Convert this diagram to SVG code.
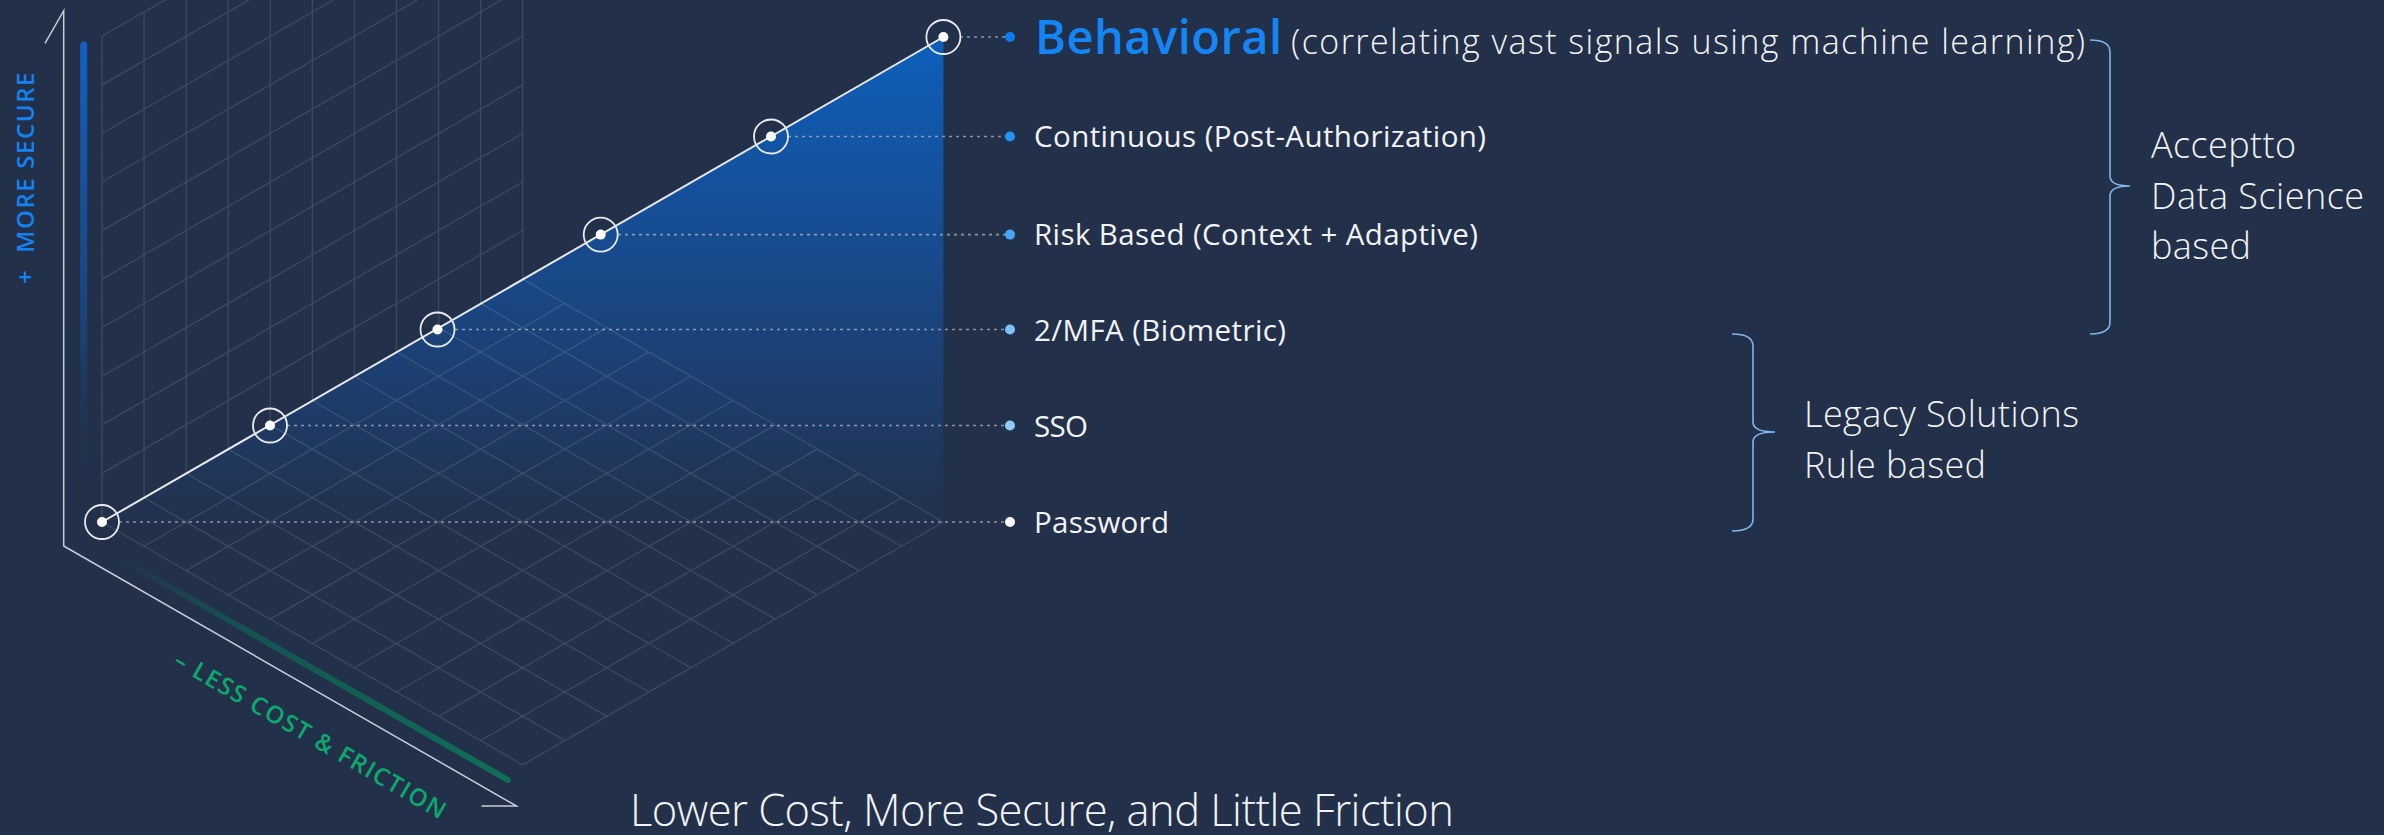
<svg xmlns="http://www.w3.org/2000/svg" width="2384" height="835" viewBox="0 0 2384 835">
<defs>
<linearGradient id="fillGrad" x1="0" y1="37" x2="0" y2="527" gradientUnits="userSpaceOnUse">
<stop offset="0" stop-color="#0d5fbb"/>
<stop offset="0.45" stop-color="#184a8c"/>
<stop offset="1" stop-color="#22304b"/>
</linearGradient>
<linearGradient id="blueBar" x1="0" y1="42" x2="0" y2="495" gradientUnits="userSpaceOnUse">
<stop offset="0" stop-color="#1162c4"/>
<stop offset="0.6" stop-color="#174a8a" stop-opacity="0.8"/>
<stop offset="1" stop-color="#22304b" stop-opacity="0"/>
</linearGradient>
<linearGradient id="greenBar" x1="118" y1="557" x2="508" y2="780" gradientUnits="userSpaceOnUse">
<stop offset="0" stop-color="#0f6e56" stop-opacity="0"/>
<stop offset="0.35" stop-color="#0f6455" stop-opacity="0.7"/>
<stop offset="1" stop-color="#0e7156"/>
</linearGradient>
<style>
.grid{stroke:#ffffff;stroke-opacity:0.12;stroke-width:1.3;fill:none}
.axis{stroke:#c9cdd3;stroke-width:1.5;fill:none}
.conn{stroke:#aeb5c2;stroke-opacity:0.75;stroke-width:1.6;stroke-dasharray:3 4;fill:none}
.ring{fill:none;stroke:#e8eaee;stroke-width:1.8}
.pt{fill:#ffffff}
.lbl{font-family:"Open Sans","Liberation Sans",sans-serif;font-size:29.5px;font-weight:400;fill:#f2f3f5}
.side{font-family:"Open Sans","Liberation Sans",sans-serif;font-size:36px;font-weight:300;fill:#f2f3f5}
.brace{fill:none;stroke:#7fb6ec;stroke-width:1.6}
</style>
</defs>
<rect x="0" y="0" width="2384" height="835" fill="#22304a"/>

<g id="back-wall-grid">
<path class="grid" d="M102,522V36.3 M144.07,497.71V12 M186.14,473.42V0 M228.21,449.13V0 M270.28,424.84V0 M312.35,400.55V0 M354.42,376.26V0 M396.49,351.97V0 M438.56,327.68V0 M480.63,303.39V0 M522.7,279.1V0
M102,473.43L522.7,230.53 M102,424.86L522.7,181.96 M102,376.29L522.7,133.39 M102,327.72L522.7,84.82 M102,279.15L522.7,36.25 M102,230.58L522.7,-12.32 M102,182.01L522.7,-60.89 M102,133.44L522.7,-109.46 M102,84.87L522.7,-158.03 M102,36.3L522.7,-206.6"/>
</g>

<g id="security-area">
<polygon points="102,522 943.4,37 943.4,527 102,527" fill="url(#fillGrad)"/>
</g>

<g id="floor-grid">
<path class="grid" d="M102,522L522.7,279.1 M144.07,546.29L564.77,303.39 M186.14,570.58L606.84,327.68 M228.21,594.87L648.91,351.97 M270.28,619.16L690.98,376.26 M312.35,643.45L733.05,400.55 M354.42,667.74L775.12,424.84 M396.49,692.03L817.19,449.13 M438.56,716.32L859.26,473.42 M480.63,740.61L901.33,497.71 M522.7,764.9L943.4,522
M102,522L522.7,764.9 M144.07,497.71L564.77,740.61 M186.14,473.42L606.84,716.32 M228.21,449.13L648.91,692.03 M270.28,424.84L690.98,667.74 M312.35,400.55L733.05,643.45 M354.42,376.26L775.12,619.16 M396.49,351.97L817.19,594.87 M438.56,327.68L859.26,570.58 M480.63,303.39L901.33,546.29 M522.7,279.1L943.4,522"/>
</g>

<g id="axes">
<path class="axis" d="M45,43.3L63.7,10.7V546L516.5,806H481.5"/>
<line x1="83.7" y1="45" x2="83.7" y2="495" stroke="url(#blueBar)" stroke-width="7" stroke-linecap="round"/>
<line x1="118" y1="557" x2="508" y2="780" stroke="url(#greenBar)" stroke-width="6" stroke-linecap="round"/>
<text transform="translate(34.3,284) rotate(-90)" font-family="'Open Sans','Liberation Sans',sans-serif" font-size="24" font-weight="600" letter-spacing="1.6" fill="#1482f2">+ <tspan dx="8">MORE SECURE</tspan></text>
<text transform="translate(172,665) rotate(30)" font-family="'Open Sans','Liberation Sans',sans-serif" font-size="24" font-weight="600" letter-spacing="1.5" fill="#0aa96d">– LESS COST &amp; FRICTION</text>
</g>

<g id="connectors">
<line class="conn" x1="960" y1="37" x2="1010" y2="37"/>
<line class="conn" x1="788" y1="136.5" x2="1010" y2="136.5"/>
<line class="conn" x1="618" y1="234.6" x2="1010" y2="234.6"/>
<line class="conn" x1="455" y1="329.5" x2="1010" y2="329.5"/>
<line class="conn" x1="287" y1="425.5" x2="1010" y2="425.5"/>
<line class="conn" x1="119" y1="522" x2="1010" y2="522"/>
</g>

<g id="trend-line">
<line x1="102" y1="522" x2="943.4" y2="37" stroke="#e6e8ec" stroke-width="2"/>
</g>

<g id="node-password">
<circle class="ring" cx="102" cy="522" r="17"/>
<circle class="pt" cx="102" cy="522" r="5"/>
<circle cx="1010" cy="522" r="5" fill="#ffffff"/>
<text class="lbl" x="1034" y="533" textLength="135">Password</text>
</g>
<g id="node-sso">
<circle class="ring" cx="270" cy="425.5" r="17"/>
<circle class="pt" cx="270" cy="425.5" r="5"/>
<circle cx="1010" cy="425.5" r="5" fill="#8fcbf9"/>
<text class="lbl" x="1034" y="436.5" textLength="54">SSO</text>
</g>
<g id="node-mfa">
<circle class="ring" cx="437.5" cy="329.5" r="17"/>
<circle class="pt" cx="437.5" cy="329.5" r="5"/>
<circle cx="1010" cy="329.5" r="5" fill="#7cc1f8"/>
<text class="lbl" x="1034" y="340.5" textLength="252">2/MFA (Biometric)</text>
</g>
<g id="node-risk">
<circle class="ring" cx="600.7" cy="234.6" r="17"/>
<circle class="pt" cx="600.7" cy="234.6" r="5"/>
<circle cx="1010" cy="234.6" r="5" fill="#45a6f5"/>
<text class="lbl" x="1034" y="245" textLength="444">Risk Based (Context + Adaptive)</text>
</g>
<g id="node-continuous">
<circle class="ring" cx="771" cy="136.5" r="17"/>
<circle class="pt" cx="771" cy="136.5" r="5"/>
<circle cx="1010" cy="136.5" r="5" fill="#2193f5"/>
<text class="lbl" x="1034" y="147" textLength="452">Continuous (Post-Authorization)</text>
</g>
<g id="node-behavioral">
<circle class="ring" cx="943.4" cy="37" r="17"/>
<circle class="pt" cx="943.4" cy="37" r="5"/>
<circle cx="1010" cy="37" r="5" fill="#0b7df0"/>
<text x="1035" y="54" font-family="'Open Sans','Liberation Sans',sans-serif" font-size="47" font-weight="600" fill="#1485f4" textLength="247">Behavioral</text>
<text x="1291" y="54" font-family="'Open Sans','Liberation Sans',sans-serif" font-size="34" font-weight="300" fill="#f2f3f5" textLength="794">(correlating vast signals using machine learning)</text>
</g>

<g id="group-acceptto">
<path class="brace" d="M2090,40Q2110,40 2110,52V176Q2110,186 2130,186Q2110,186 2110,196V322Q2110,334 2090,334"/>
<text class="side" x="2151" y="158" textLength="145">Acceptto</text>
<text class="side" x="2151" y="209" textLength="213">Data Science</text>
<text class="side" x="2151" y="259" textLength="100">based</text>
</g>
<g id="group-legacy">
<path class="brace" d="M1732,334Q1753,334 1753,346V422Q1753,432 1775,432Q1753,432 1753,442V519Q1753,531 1732,531"/>
<text class="side" x="1804" y="427" textLength="275">Legacy Solutions</text>
<text class="side" x="1804" y="478" textLength="182">Rule based</text>
</g>

<g id="caption">
<text x="630" y="826" font-family="'Open Sans','Liberation Sans',sans-serif" font-size="43.5" font-weight="300" fill="#f2f3f5" textLength="824">Lower Cost, More Secure, and Little Friction</text>
</g>
</svg>
